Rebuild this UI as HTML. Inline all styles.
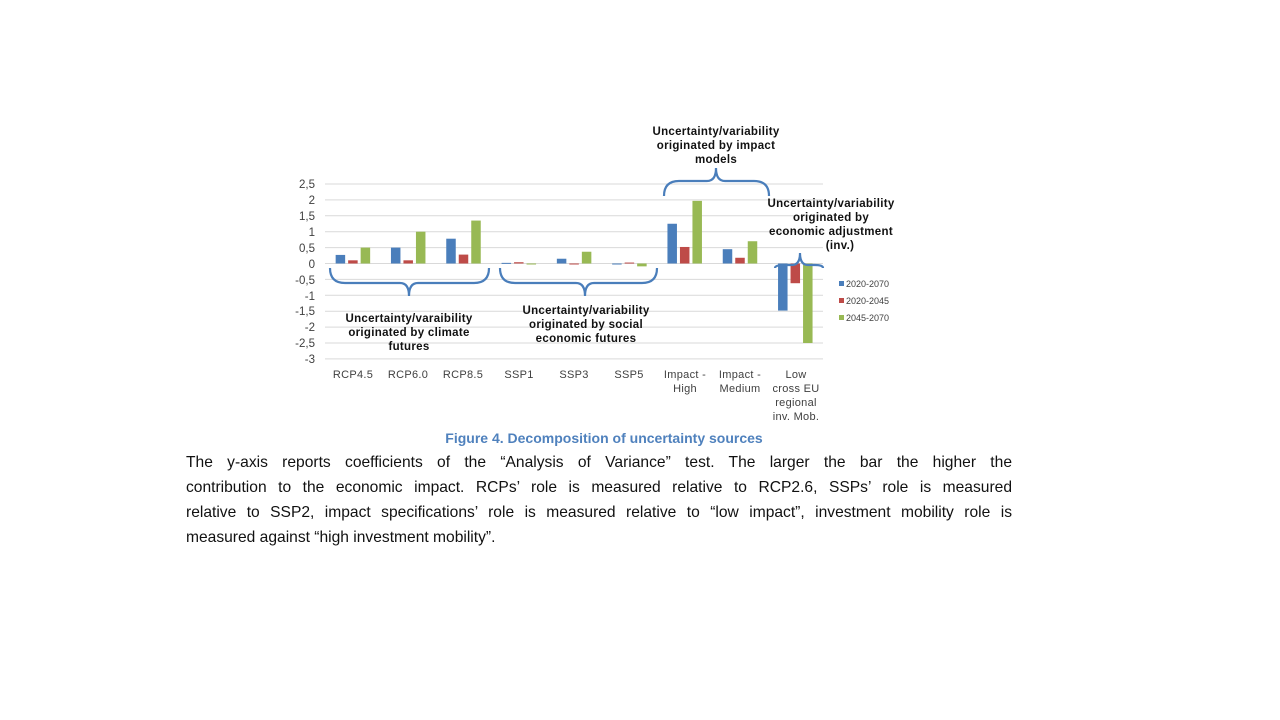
<!DOCTYPE html>
<html><head><meta charset="utf-8">
<style>
body{margin:0;width:1280px;height:720px;background:#fff;overflow:hidden;position:relative;font-family:"Liberation Sans",sans-serif}
svg{position:absolute;left:0;top:0}
.body{position:absolute;left:186px;top:450px;width:826px;font-size:15.6px;color:#111;line-height:25px}
.body div{text-align:justify;text-align-last:justify;white-space:nowrap}
.body div.last{text-align-last:left}
</style></head><body>
<svg id="s" width="1280" height="720" font-family="Liberation Sans, sans-serif">
<g stroke="#d9d9d9" stroke-width="1" id="grid"></g>
<g id="bars"></g>
<g font-size="11.5" fill="#404040" text-anchor="end">
<text x="315" y="188">2,5</text><text x="315" y="204">2</text><text x="315" y="220">1,5</text><text x="315" y="236">1</text><text x="315" y="252">0,5</text><text x="315" y="268">0</text><text x="315" y="284">-0,5</text><text x="315" y="300">-1</text><text x="315" y="315">-1,5</text><text x="315" y="331">-2</text><text x="315" y="347">-2,5</text><text x="315" y="363">-3</text>
</g>
<g font-size="11" fill="#404040" text-anchor="middle" letter-spacing="0.3">
<text x="353" y="378">RCP4.5</text><text x="408" y="378">RCP6.0</text><text x="463" y="378">RCP8.5</text>
<text x="519" y="378">SSP1</text><text x="574" y="378">SSP3</text><text x="629" y="378">SSP5</text>
<text x="685" y="378">Impact -</text><text x="685" y="392">High</text>
<text x="740" y="378">Impact -</text><text x="740" y="392">Medium</text>
<text x="796" y="378">Low</text><text x="796" y="392">cross EU</text><text x="796" y="406">regional</text><text x="796" y="420">inv. Mob.</text>
</g>
<g fill="none" stroke="#4a7ebb" stroke-width="2.2">
<path d="M330 268 Q330 283 345 283 L400 283 Q409 283 409 296 Q409 283 418 283 L474 283 Q489 283 489 268"/>
<path d="M500 268 Q500 283 515 283 L576 283 Q585 283 585 296 Q585 283 594 283 L642 283 Q657 283 657 268"/>
<path d="M664 196 Q664 181 679 181 L707 181 Q716 181 716 168 Q716 181 725 181 L754 181 Q769 181 769 196"/>
<path d="M775 268 Q775 265 785 265 L792 265 Q800 265 800 253 Q800 265 808 265 L815 265 Q823 265 823 268"/>
</g>
<g font-size="11.5" font-weight="bold" fill="#111" text-anchor="middle" letter-spacing="0.3">
<text x="409" y="322">Uncertainty/varaibility</text><text x="409" y="336">originated by climate</text><text x="409" y="350">futures</text>
<text x="586" y="314">Uncertainty/variability</text><text x="586" y="328">originated by social</text><text x="586" y="342">economic futures</text>
<text x="716" y="135">Uncertainty/variability</text><text x="716" y="149">originated by impact</text><text x="716" y="163">models</text>
<text x="831" y="207">Uncertainty/variability</text><text x="831" y="221">originated by</text><text x="831" y="235">economic adjustment</text><text x="840" y="249">(inv.)</text>
</g>
<g font-size="9" fill="#404040">
<rect x="839" y="281" width="5" height="5" fill="#4a7ebb"/><text x="846" y="287">2020-2070</text>
<rect x="839" y="298" width="5" height="5" fill="#be4b48"/><text x="846" y="304">2020-2045</text>
<rect x="839" y="315" width="5" height="5" fill="#98b954"/><text x="846" y="321">2045-2070</text>
</g>
<text x="604" y="443" font-size="14" font-weight="bold" fill="#4f81bd" text-anchor="middle">Figure 4. Decomposition of uncertainty sources</text>
</svg>
<div class="body">
<div>The y-axis reports coefficients of the “Analysis of Variance” test. The larger the bar the higher the</div>
<div>contribution to the economic impact. RCPs’ role is measured relative to RCP2.6, SSPs’ role is measured</div>
<div>relative to SSP2, impact specifications’ role is measured relative to “low impact”, investment mobility role is</div>
<div class="last">measured against “high investment mobility”.</div>
</div>
<script>
var ns="http://www.w3.org/2000/svg";
var g=document.getElementById("grid");
for(var i=0;i<12;i++){var y=184+i*15.9;var l=document.createElementNS(ns,"line");l.setAttribute("x1",325);l.setAttribute("x2",823);l.setAttribute("y1",y);l.setAttribute("y2",y);g.appendChild(l);}
var d=[[.27,.1,.5],[.5,.1,1.0],[.78,.28,1.35],[.02,.04,0],[.15,-.02,.37],[-.03,.03,-.09],[1.25,.52,1.97],[.45,.18,.7],[-1.48,-.62,-2.5]];
var c=["#4a7ebb","#be4b48","#98b954"],b=document.getElementById("bars"),z=263.5,k=31.8;
d.forEach(function(v,i){var cx=325+55.3*(i+.5);v.forEach(function(val,j){var r=document.createElementNS(ns,"rect");var x=cx-17+j*12.5;var h=Math.abs(val)*k;r.setAttribute("x",x);r.setAttribute("width",9.5);r.setAttribute("y",val>=0?z-h:z);r.setAttribute("height",Math.max(h,1));r.setAttribute("fill",c[j]);b.appendChild(r);});});
</script>
</body></html>
